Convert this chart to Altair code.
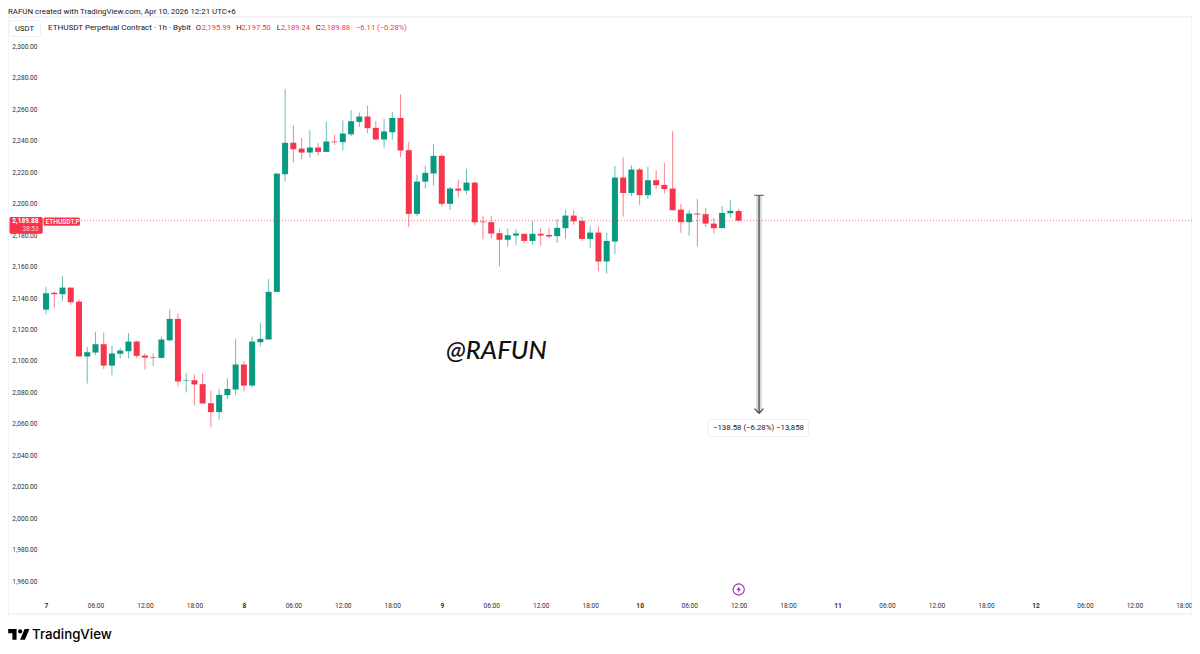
import altair as alt
import pandas as pd

# ---- chart data (hours since Apr 7 00:00, hourly candles) ----
opens = [2133.3,2144.0,2143.1,2147.3,2138.4,2103.5,2106.0,2111.3,2097.7,2105.2,2106.8,2113.0,2104.1,2103.0,2102.6,2113.8,2127.4,2088.2,2088.4,2085.9,2073.8,2068.1,2078.9,2082.5,2098.4,2085.0,2112.6,2114.3,2144.6,2219.4,
         2239.4,2235.7,2233.2,2236.4,2233.6,2240.2,2239.8,2244.8,2252.7,2256.1,2248.9,2241.5,2246.1,2255.2,2234.7,2194.2,2214.7,2219.9,2231.1,2200.6,2210.3,2209.0,2214.1,2189.3,2188.9,2181.9,2177.7,2180.4,2181.5,2177.0,
         2181.5,2180.8,2180.0,2185.1,2193.1,2189.7,2178.3,2182.3,2163.9,2176.6,2217.3,2207.5,2222.4,2206.1,2215.6,2212.6,2210.3,2196.9,2188.9,2194.4,2194.0,2188.0,2185.1,2194.6,2195.99]
highs = [2147.8,2144.6,2154.6,2147.3,2139.9,2109.6,2119.2,2118.7,2110.2,2109.0,2118.5,2113.6,2105.4,2105.4,2116.2,2133.4,2130.8,2093.1,2092.0,2093.1,2081.8,2082.9,2089.7,2114.7,2100.5,2116.2,2124.9,2152.9,2220.0,2273.7,
         2250.6,2242.5,2247.4,2239.3,2252.7,2244.6,2253.6,2260.1,2258.6,2263.1,2253.3,2254.6,2259.0,2270.1,2240.0,2219.0,2224.9,2238.7,2232.1,2211.4,2216.0,2222.8,2214.5,2193.1,2192.9,2184.7,2184.9,2184.7,2181.5,2189.5,
         2185.3,2185.3,2191.0,2196.9,2196.5,2192.1,2186.4,2186.4,2182.1,2224.7,2230.2,2225.1,2223.4,2224.1,2222.0,2226.6,2246.8,2200.5,2196.5,2203.7,2197.8,2191.6,2199.1,2202.9,2197.50]
lows = [2130.2,2134.2,2138.9,2136.3,2103.5,2086.3,2104.3,2095.6,2091.6,2102.2,2102.2,2102.4,2095.2,2097.5,2102.2,2113.0,2084.4,2080.6,2072.5,2073.6,2058.5,2063.4,2076.5,2078.9,2081.4,2083.7,2110.0,2114.3,2144.4,2215.0,
        2227.0,2228.9,2230.0,2231.3,2233.6,2237.9,2234.5,2243.6,2249.5,2245.5,2241.0,2236.2,2241.5,2230.4,2185.7,2192.7,2210.3,2212.2,2198.8,2196.7,2205.0,2206.9,2187.0,2178.0,2178.1,2160.9,2173.4,2174.5,2175.3,2174.7,
        2174.1,2178.7,2175.7,2178.3,2187.2,2177.0,2172.6,2157.7,2156.2,2168.7,2192.5,2205.4,2199.9,2203.7,2209.9,2207.1,2196.5,2182.1,2180.4,2173.4,2185.9,2181.7,2185.1,2191.4,2189.24]
closes = [2143.7,2143.1,2147.3,2138.0,2103.5,2106.2,2111.3,2097.7,2105.4,2107.3,2113.0,2103.9,2102.8,2102.6,2114.3,2127.4,2087.6,2088.6,2085.7,2073.6,2068.1,2079.1,2082.9,2098.4,2085.0,2113.0,2114.7,2144.6,2219.8,2239.4,
          2235.3,2233.2,2236.4,2233.6,2240.2,2239.8,2245.3,2253.1,2256.1,2248.7,2241.5,2246.6,2255.2,2234.5,2194.2,2214.7,2220.3,2231.1,2200.6,2210.3,2209.0,2214.1,2188.9,2188.9,2181.7,2177.7,2180.6,2181.7,2177.0,2181.5,
          2180.4,2179.8,2185.3,2193.1,2189.5,2178.3,2182.3,2163.9,2177.0,2217.3,2207.5,2222.4,2206.1,2215.6,2212.4,2209.9,2196.5,2188.9,2194.4,2193.8,2188.0,2185.1,2194.8,2196.1,2189.88]

price_ticks = [1960,1980,2000,2020,2040,2060,2080,2100,2120,2140,2160,2180,2200,2220,2240,2260,2280,2300]
hour_ticks = [0,6,12,18,24,30,36,42,48,54,60,66,72,78,84,90,96,102,108,114,120,126,132,138]
hour_labels = ["7","06:00","12:00","18:00","8","06:00","12:00","18:00","9","06:00","12:00","18:00",
               "10","06:00","12:00","18:00","11","06:00","12:00","18:00","12","06:00","12:00","18:00"]

last_close = 2189.88
measure_hour = 86.48
measure_top = 2206.0
measure_change = -138.58

header_source = "RAFUN created with TradingView.com, Apr 10, 2026 12:21 UTC+6"
header_symbol = "ETHUSDT Perpetual Contract · 1h · Bybit"
ohlc_parts = [("O", "2,195.99"), ("H", "2,197.50"), ("L", "2,189.24"), ("C", "2,189.88")]
ohlc_change = "−6.11 (−0.28%)"
measure_text = "−138.58 (−6.28%) −13,858"
watermark = "@RAFUN"

# ---- styles ----
GREEN, RED, INK, FRAME, PURPLE = "#089981", "#F6344A", "#131722", "#E6E8EE", "#9C27B0"
FONT = "Roboto"
OX, OY = 40, 17  # page position of the plot's origin

df = pd.DataFrame({"h": list(range(len(opens))), "o": opens, "hi": highs, "lo": lows, "c": closes})
df["col"] = [GREEN if c >= o else RED for o, c in zip(opens, closes)]

xs = alt.Scale(domain=[-0.7277, 138.99], nice=False, zero=False, padding=0)
ys = alt.Scale(domain=[1951.17, 2319.4], nice=False, zero=False, padding=0)
col = alt.Color("col:N", scale=None, legend=None)
base = alt.Chart(df)

label_map = dict(zip(hour_ticks, hour_labels))
label_expr = "{" + ",".join(f'"{k}":"{v}"' for k, v in label_map.items()) + "}[datum.value]"

xa = alt.Axis(values=hour_ticks, labelExpr=label_expr, grid=False, ticks=False, domain=False, title=None,
              labelFont=FONT, labelFontSize=6.6, labelColor="#2A2E39", labelPadding=6,
              labelOverlap=False, labelFlush=False,
              labelFontWeight={"condition": {"test": "datum.value % 24 === 0", "value": 700}, "value": 400})
ya = alt.Axis(values=price_ticks, format=",.2f", grid=False, ticks=False, domain=False, title=None,
              labelFont=FONT, labelFontSize=6.6, labelColor="#2A2E39", labelPadding=3, labelOffset=-1)


def X(field):
    return alt.X(field, scale=xs, axis=xa)


def Y(field):
    return alt.Y(field, scale=ys, axis=ya)


wicks = base.mark_rule(strokeWidth=1, opacity=0.62).encode(x=X("h:Q"), y=Y("lo:Q"), y2="hi:Q", color=col)
bodies = base.mark_bar(size=6).encode(x=X("h:Q"), y=Y("o:Q"), y2="c:Q", color=col)

price_line = alt.Chart(pd.DataFrame({"p": [last_close]})).mark_rule(
    color=RED, strokeDash=[1, 2], strokeWidth=1, opacity=0.7).encode(y=Y("p:Q"))

tool_df = pd.DataFrame({"h": [measure_hour], "a": [measure_top], "b": [measure_top + measure_change]})
tool = alt.Chart(tool_df)
tool_band = tool.mark_rule(color="#A9ACB4", strokeWidth=6, opacity=0.45).encode(x=X("h:Q"), y=Y("a:Q"), y2="b:Q")
tool_line = tool.mark_rule(color="#3C3F47", strokeWidth=1.2).encode(x=X("h:Q"), y=Y("a:Q"), y2="b:Q")
tool_cap = tool.mark_tick(color="#3C3F47", thickness=1.2, size=10, orient="horizontal").encode(x=X("h:Q"), y=Y("a:Q"))
tool_arrow = tool.mark_point(shape="M-1,-1L0,0L1,-1", size=81, stroke="#3C3F47", strokeWidth=1.1,
                             fill=None, filled=False, opacity=1).encode(x=X("h:Q"), y=Y("b:Q"))

dummy = alt.Chart(pd.DataFrame({"k": [0]}))


def px(x, y):
    return {"x": alt.value(x - OX), "y": alt.value(y - OY)}


def text(s, x, y, size=7.6, color=INK, align="left", weight=400, font=FONT):
    return dummy.mark_text(text=s, fontSize=size, color=color, align=align, baseline="middle",
                           fontWeight=weight, font=font).encode(**px(x, y))


def box(x0, y0, x1, y1, **kw):
    return dummy.mark_rect(**kw).encode(
        x=alt.value(x0 - OX), x2=alt.value(x1 - OX), y=alt.value(y0 - OY), y2=alt.value(y1 - OY))


def poly(points, cx, cy, half):
    return "M" + "L".join(f"{(a - cx) / half:.4f},{(b - cy) / half:.4f}" for a, b in points) + "Z"


frame = box(8, 17, 1192, 614, fill=None, stroke=FRAME, strokeWidth=1)
usdt_box = box(9.5, 20.5, 40.5, 36.5, fill="#FFFFFF", stroke="#EEF0F4", strokeWidth=1, cornerRadius=2)

header = [text(header_source, 8, 12, size=7.9), text("USDT", 24.5, 29, size=7.6, align="center"),
          text(header_symbol, 48, 27.5, size=8.05)]
ohlc_x = [(195.7, 201.7), (236.3, 241.6), (276.7, 281), (315.7, 321)]
for (k, v), (xa_, xb) in zip(ohlc_parts, ohlc_x):
    header += [text(k, xa_, 27.5), text(v, xb, 27.5, color=RED)]
header.append(text(ohlc_change, 356, 27.5, color=RED))

tags = [box(9.5, 217, 42.7, 233.8, fill="#F6344A", cornerRadius=1.5),
        box(43.5, 217.6, 80, 225.8, fill="#F6344A", cornerRadius=1.5),
        text("2,189.88", 38.5, 221.3, size=6.6, color="#FFFFFF", align="right", weight=700),
        text("38:53", 38.5, 229, size=6.4, color="#FFD5DA", align="right"),
        text("ETHUSDT.P", 45.5, 221.5, size=6.6, color="#FFFFFF", weight=500)]

measure_box = box(708, 419.5, 808.5, 436.5, fill="#FFFFFF", stroke="#EEF0F4", strokeWidth=1, cornerRadius=2)
measure_label = text(measure_text, 758.5, 428, size=7.8, align="center")

mark = dummy.mark_text(text=watermark, fontSize=25.7, color="#111111", align="left", baseline="middle",
                       font="Lato", fontStyle="italic", fontWeight=500).encode(**px(446, 351))

logo_half = 17.75
logo_scale = 10.6 / logo_half
logo_a = poly([(0, 6), (14, 6), (14, 24), (7, 24), (7, 13), (0, 13)], 17.75, 15, logo_half)
logo_b = poly([(20, 24), (28, 24), (35.5, 6), (27.5, 6)], 17.75, 15, logo_half)
logo_cx, logo_cy = 18.8, 634.4
logo = [dummy.mark_point(shape=logo_a + logo_b, size=(2 * 10.6) ** 2, filled=True, color="#000000", opacity=1).encode(
            **px(logo_cx, logo_cy)),
        dummy.mark_point(shape="circle", size=3.1416 * (4 * logo_scale) ** 2, filled=True, color="#000000", opacity=1).encode(
            **px(logo_cx + 2.25 * logo_scale, logo_cy - 5 * logo_scale)),
        text("TradingView", 32, 634.5, size=13.3, color="#000000", weight=500, font="Inter")]

bolt = "M0.25,-1L-0.65,0.18L-0.05,0.18L-0.25,1L0.65,-0.18L0.05,-0.18Z"
flash = [dummy.mark_point(shape="circle", size=3.1416 * 6.3 ** 2, filled=False, stroke=PURPLE, strokeWidth=1.1,
                          opacity=1).encode(**px(738.7, 589.5)),
         dummy.mark_point(shape=bolt, size=49, filled=True, color=PURPLE, opacity=1).encode(**px(738.7, 589.5))]

layers = [frame, usdt_box, wicks, bodies, price_line, tool_band, tool_line, tool_cap, tool_arrow,
          measure_box, measure_label, mark] + tags + header + logo + flash

chart = alt.layer(*layers).properties(
    width=1152, height=579,
    padding={"left": 32, "top": 9, "right": 0, "bottom": 50},
    autosize=alt.AutoSizeParams(type="none"),
    background="#FFFFFF",
).configure_view(stroke=None)

chart.save("out.html", embed_options={"renderer": "svg", "actions": False})
